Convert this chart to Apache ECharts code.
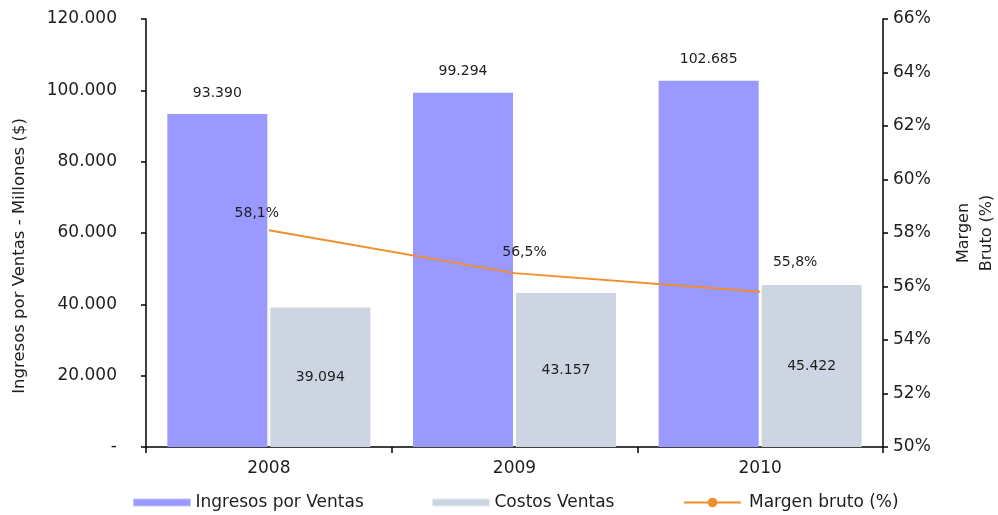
<!DOCTYPE html>
<html>
<head>
<meta charset="utf-8">
<script src="https://cdn.jsdelivr.net/npm/echarts@6/dist/echarts.min.js"></script>
<style>
  html, body { margin: 0; padding: 0; background: #fff; }
  #chart { width: 998px; height: 515px; }
</style>
</head>
<body>
<div id="chart"></div>
<script>
// Categories and series values
const years = ['2008', '2009', '2010'];
const ingresos = [93390, 99294, 102685];
const costos = [39094, 43157, 45422];
const margen = [58.1, 56.5, 55.8];

const FONT = '"DejaVu Sans", "Liberation Sans", Arial, sans-serif';
const TXT = '#1e1e1e';
const BLUE = '#9999ff';
const GREY = '#ccd5e1';
const ORANGE = '#f28e2b';

// Thousands separator with a dot, zero shown as a dash
function fmtMiles(v) {
  if (v === 0) return '-';
  return String(Math.round(v)).replace(/\B(?=(\d{3})+(?!\d))/g, '.');
}
function fmtPct(v) {
  return v.toFixed(1).replace('.', ',') + '%';
}

// Per-point label nudges for the margin line
const margenLabelOffsets = [[-12, 0], [10, -4], [35, -12]];

// Flat bar swatch used in the legend (aspect kept inside the item box)
const SWATCH = 'path://M0,0h57v7h-57z';

const legendText = { fontFamily: FONT, fontSize: 17, color: TXT };
function legendAt(left, name, extra) {
  return Object.assign({
    top: 494,
    left: left,
    itemWidth: 57,
    itemHeight: 12,
    itemGap: 0,
    padding: 0,
    textStyle: legendText,
    data: [name]
  }, extra || {});
}

const chart = echarts.init(document.getElementById('chart'), null, { renderer: 'canvas' });

chart.setOption({
  animation: false,
  textStyle: { fontFamily: FONT, color: TXT },
  grid: { left: 146, right: 115, top: 19, bottom: 68, containLabel: false, outerBoundsMode: 'none' },
  legend: [
    legendAt(133, { name: 'Ingresos por Ventas', icon: SWATCH, itemStyle: { color: BLUE, borderColor: '#c4c4ff', borderWidth: 1 } }),
    legendAt(432, { name: 'Costos Ventas', icon: SWATCH, itemStyle: { color: GREY, borderColor: '#e6ebf2', borderWidth: 1 } }),
    legendAt(683, { name: 'Margen bruto (%)' }, { textStyle: Object.assign({}, legendText, { padding: [0, 0, 0, 3] }) })
  ],
  xAxis: {
    type: 'category',
    data: years,
    axisLine: { lineStyle: { color: '#000', width: 1.5 } },
    axisTick: { show: true, length: 6, lineStyle: { color: '#000', width: 1.5 } },
    axisLabel: { fontFamily: FONT, fontSize: 17, color: TXT, margin: 13 }
  },
  yAxis: [
    {
      type: 'value',
      min: 0,
      max: 120000,
      interval: 20000,
      name: 'Ingresos por Ventas - Millones ($)',
      nameLocation: 'middle',
      nameGap: 118,
      nameTextStyle: { fontFamily: FONT, fontSize: 16.5, color: TXT, padding: [0, 46, 0, 0] },
      axisLine: { show: true, lineStyle: { color: '#000', width: 1.5 } },
      axisTick: { show: true, length: 5, lineStyle: { color: '#000', width: 1.5 } },
      splitLine: { show: false },
      axisLabel: { fontFamily: FONT, fontSize: 17, color: TXT, margin: 29, formatter: fmtMiles }
    },
    {
      type: 'value',
      min: 50,
      max: 66,
      interval: 2,
      position: 'right',
      name: 'Margen\nBruto (%)',
      nameLocation: 'middle',
      nameGap: 69,
      nameRotate: 90,
      nameTextStyle: { fontFamily: FONT, fontSize: 16, color: TXT, lineHeight: 23 },
      axisLine: { show: true, lineStyle: { color: '#000', width: 1.5 } },
      axisTick: { show: true, length: 5, lineStyle: { color: '#000', width: 1.5 } },
      splitLine: { show: false },
      axisLabel: { fontFamily: FONT, fontSize: 17, color: TXT, margin: 10, formatter: v => v + '%' }
    }
  ],
  series: [
    {
      name: 'Ingresos por Ventas',
      type: 'bar',
      data: ingresos,
      barWidth: 100,
      barGap: '3%',
      itemStyle: { color: BLUE },
      label: {
        show: true,
        position: 'top',
        distance: 14,
        fontFamily: FONT,
        fontSize: 14,
        color: TXT,
        formatter: p => fmtMiles(p.value)
      }
    },
    {
      name: 'Costos Ventas',
      type: 'bar',
      data: costos,
      barWidth: 100,
      itemStyle: { color: GREY },
      label: {
        show: true,
        position: 'inside',
        fontFamily: FONT,
        fontSize: 14,
        color: TXT,
        formatter: p => fmtMiles(p.value)
      }
    },
    {
      name: 'Margen bruto (%)',
      type: 'line',
      yAxisIndex: 1,
      data: margen.map((v, i) => ({
        value: v,
        label: { offset: margenLabelOffsets[i] }
      })),
      symbol: 'circle',
      symbolSize: 0.01,
      lineStyle: { color: ORANGE, width: 2 },
      itemStyle: { color: ORANGE },
      z: 5,
      label: {
        show: true,
        position: 'top',
        distance: 10,
        fontFamily: FONT,
        fontSize: 14,
        color: TXT,
        formatter: p => fmtPct(p.value)
      }
    }
  ]
});
</script>
</body>
</html>
